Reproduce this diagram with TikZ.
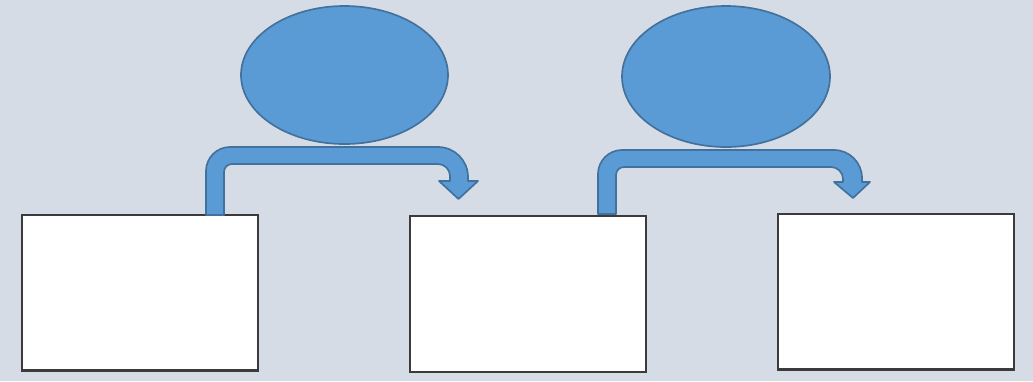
\documentclass[tikz,border=0pt]{standalone}
\usepackage{tikz}
\usetikzlibrary{shapes.geometric, positioning}
\definecolor{BgColor}{RGB}{214,220,229}
\definecolor{BlueFill}{RGB}{91,155,213}
\definecolor{BlueLine}{RGB}{65,113,156}
\definecolor{BoxLine}{RGB}{59,59,59}
\tikzstyle{box} = [draw=BoxLine, fill=white, line width=0.07cm, minimum width=7.07cm, minimum height=4.67cm, inner sep=0pt]
\tikzstyle{bubble} = [ellipse, draw=BlueLine, fill=BlueFill, line width=0.05cm, inner sep=0pt]
\tikzstyle{bentarrow} = [draw=BlueLine, fill=BlueFill, line width=0.05cm, line join=round]

\begin{document}
\begin{tikzpicture}[x=0.03cm, y=-0.03cm]
    \fill[BgColor] (0,0) rectangle (1033,381);

    % boxes
    \node[box] (box1) at (140,292.5) {};
    \node[box] (box2) at (528,294) {};
    \node[box] (box3) at (896,291.5) {};

    % ellipses
    \node[bubble, minimum width=6.21cm, minimum height=4.14cm] (oval1) at (344.5,75) {};
    \node[bubble, minimum width=6.24cm, minimum height=4.23cm] (oval2) at (726,76.5) {};

    % bent arrows
    \draw[bentarrow] (206,215) [rounded corners=0.72cm] -- (206,147) [rounded corners=0.9cm] -- (468,147)
        [sharp corners] -- (468,181) -- (478,181) -- (458.5,199) -- (439,181) -- (450,181)
        [rounded corners=0.36cm] -- (450,164) [rounded corners=0.24cm] -- (224,164)
        [sharp corners] -- (224,215) -- cycle;
    \draw[bentarrow] (598,214) [rounded corners=0.72cm] -- (598,150) [rounded corners=0.84cm] -- (862,150)
        [sharp corners] -- (862,182) -- (870,182) -- (853,198) -- (834,182) -- (843,182)
        [rounded corners=0.36cm] -- (843,167) [rounded corners=0.24cm] -- (616,167)
        [sharp corners] -- (616,214) -- cycle;
\end{tikzpicture}
\end{document}
